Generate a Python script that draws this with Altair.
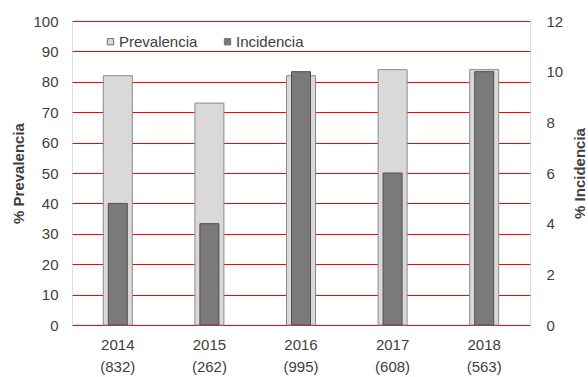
import altair as alt
import pandas as pd

years = ["2014", "2015", "2016", "2017", "2018"]
counts = ["(832)", "(262)", "(995)", "(608)", "(563)"]
prevalencia = [82, 73, 82, 84, 84]
incidencia = [4.8, 4.0, 10.0, 6.0, 10.0]

cat = [f"{y}|{c}" for y, c in zip(years, counts)]
df = pd.DataFrame({
    "cat": cat,
    "Prevalencia": prevalencia,
    "Incidencia": incidencia,
})

FONT = "Liberation Sans"
TXT = "#404040"
FS = 15

color = alt.Color(
    "series:N",
    scale=alt.Scale(domain=["Prevalencia", "Incidencia"], range=["#d9d9d9", "#7a7a7a"]),
    legend=alt.Legend(
        title=None, orient="none", legendX=31, legendY=13, direction="horizontal",
        symbolType="square", symbolSize=40, symbolStrokeColor="#707070", symbolStrokeWidth=1,
        labelFont=FONT, labelFontSize=FS, labelColor=TXT, columnPadding=22, labelOffset=1,
    ),
)

x = alt.X(
    "cat:N", sort=cat, title=None,
    scale=alt.Scale(paddingInner=0, paddingOuter=0),
    axis=alt.Axis(labelExpr="split(datum.label, '|')", labelAngle=0, domain=False, ticks=False,
                  labelFont=FONT, labelFontSize=FS, labelColor=TXT, labelPadding=12,
                  labelLineHeight=22, grid=False, gridColor="blue"),
)

prev = alt.Chart(df).transform_calculate(series="'Prevalencia'").mark_bar(
    size=29, stroke="#8a8a8a", strokeWidth=1
).encode(
    x=x,
    y=alt.Y("Prevalencia:Q", scale=alt.Scale(domain=[0, 100]),
            axis=alt.Axis(values=list(range(0, 101, 10)), title="% Prevalencia", domain=False, ticks=False,
                          labelFont=FONT, labelFontSize=FS, labelColor=TXT, labelPadding=14,
                          titleFont=FONT, titleFontSize=FS, titleColor=TXT, titleFontWeight="bold",
                          titleX=-46, titleY=152, titleAngle=270,
                          gridColor="red", gridWidth=1)),
    color=color,
)

inc = alt.Chart(df).transform_calculate(series="'Incidencia'").mark_bar(
    size=19, stroke="#505050", strokeWidth=1
).encode(
    x=x,
    y=alt.Y("Incidencia:Q", scale=alt.Scale(domain=[0, 12]),
            axis=alt.Axis(values=list(range(0, 13, 2)), orient="right", title="% Incidencia", domain=False,
                          ticks=False, grid=False,
                          labelFont=FONT, labelFontSize=FS, labelColor=TXT, labelPadding=16,
                          titleFont=FONT, titleFontSize=FS, titleColor=TXT, titleFontWeight="bold",
                          titleX=57, titleY=152, titleAngle=270)),
    color=color,
)

chart = alt.layer(prev, inc).resolve_scale(y="independent").properties(
    width=458, height=304,
    autosize=alt.AutoSizeParams(type="none"),
    padding={"left": 72, "top": 21, "right": 58, "bottom": 52},
).configure_view(stroke="green", strokeWidth=1).configure(background="white")

chart.save("out.html", embed_options={"renderer": "svg", "actions": False})
